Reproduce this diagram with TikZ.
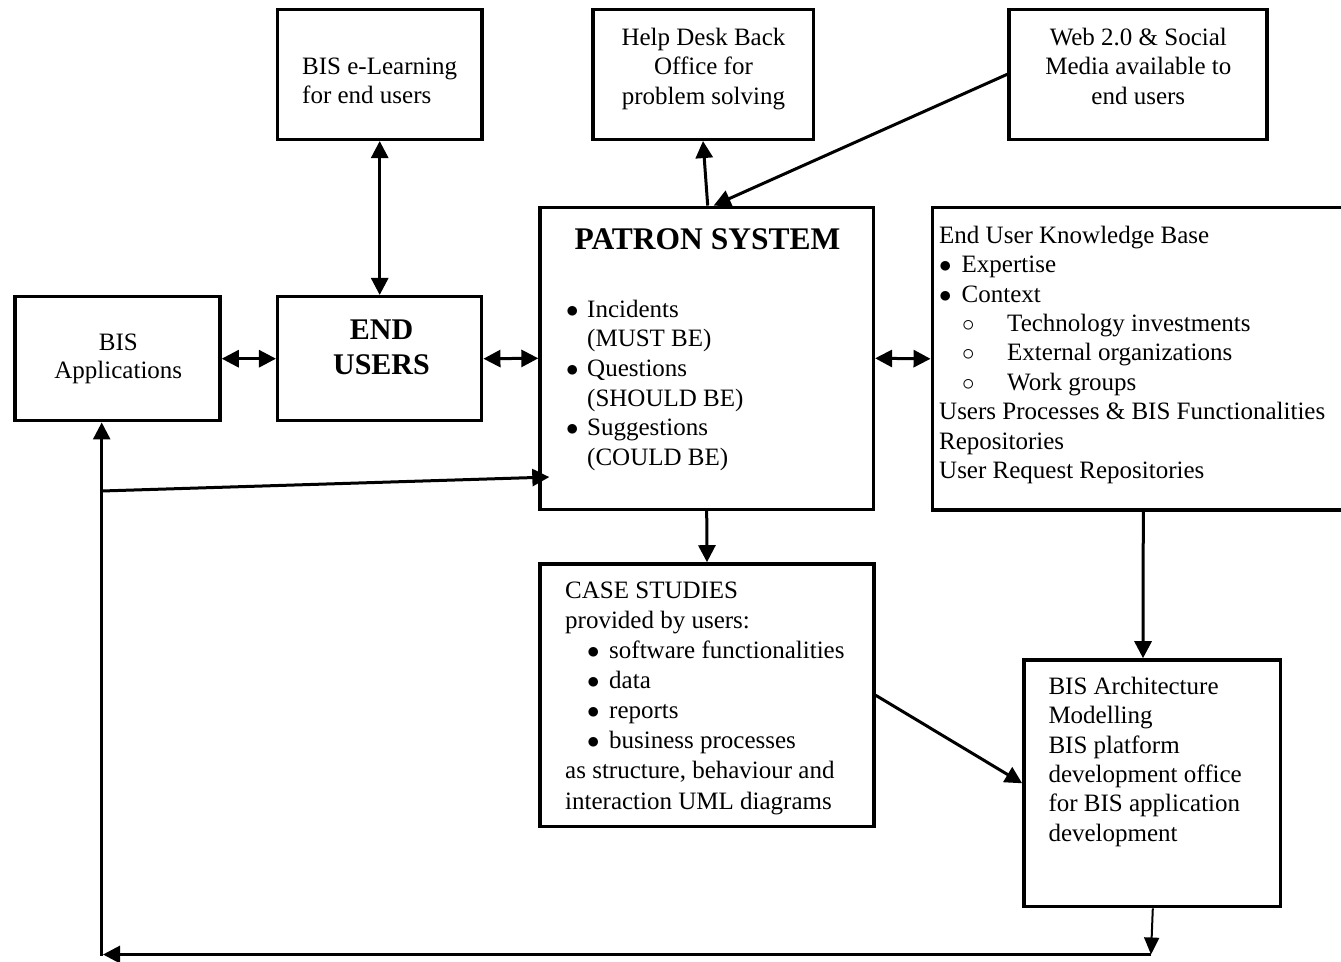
\documentclass[tikz,border=0pt]{standalone}
\usepackage{fontspec}
\setmainfont{Liberation Serif}
\usetikzlibrary{arrows.meta,calc}

% list markers: filled dot (first level) and open circle (second level)
\newcommand{\dotmark}{\(\bullet\)}
\newcommand{\subitemmark}{\(\circ\)}

\tikzset{
  box/.style={draw, line width=3.5pt, inner sep=0pt},
  conn/.style={line width=3pt, -{Triangle[length=17pt,width=17pt]}},
  dconn/.style={line width=3pt, {Triangle[length=17pt,width=17pt]}-{Triangle[length=17pt,width=17pt]}},
  thinconn/.style={line width=2pt, -{Triangle[length=17pt,width=15pt]}},
  txt/.style={inner sep=0pt, font=\fontsize{25}{29.5}\selectfont},
  ctxt/.style={txt, anchor=base},
  ltxt/.style={txt, anchor=base west},
}

\begin{document}
\begin{tikzpicture}[x=1pt, y=-1pt]
\useasboundingbox (0,0) rectangle (1341,961);

% ---- boxes ----
\node[box, minimum width=204.5pt, minimum height=130pt] (elearn)   at (379.7,74.3) {};
\node[box, minimum width=220.5pt, minimum height=130pt] (helpdesk) at (703,74.3) {};
\node[box, minimum width=258pt,   minimum height=130pt] (web)      at (1138,74.3) {};
\node[box, minimum width=205pt,   minimum height=124pt] (bisapp)   at (117.5,358.7) {};
\node[box, minimum width=204pt,   minimum height=124pt] (endusers) at (379.7,358.7) {};
\node[box, minimum width=333.3pt, minimum height=302pt] (patron)   at (706.7,358.3) {};
\node[box, minimum width=411pt,   minimum height=302.3pt] (kb)     at (1137.8,358.8) {};
\node[box, minimum width=334pt,   minimum height=262.7pt] (case)   at (707,695.3) {};
\node[box, minimum width=256.7pt, minimum height=246.7pt] (arch)   at (1152.3,783.3) {};

% ---- box texts ----
\node[ltxt] (elearntxt) at (302,74)
  {\begin{tabular}[t]{@{}l@{}}BIS e-Learning\\for end users\end{tabular}};
\node[ctxt] (helptxt) at (703.5,45)
  {\begin{tabular}[t]{@{}c@{}}Help Desk Back\\Office for\\problem solving\end{tabular}};
\node[ctxt] (webtxt) at (1138.3,45)
  {\begin{tabular}[t]{@{}c@{}}Web 2.0 \& Social\\Media available to\\end users\end{tabular}};
\node[ctxt, font=\fontsize{25}{28.5}\selectfont] (bisapptxt) at (118.3,350)
  {\begin{tabular}[t]{@{}c@{}}BIS\\Applications\end{tabular}};
\node[ctxt, font=\fontsize{30}{35}\selectfont\bfseries] (endtxt) at (381.5,339.3)
  {\begin{tabular}[t]{@{}c@{}}END\\USERS\end{tabular}};

\node[ctxt, font=\fontsize{31.5}{36}\selectfont\bfseries] (patrontitle) at (707.5,249)
  {PATRON SYSTEM};
\node[ltxt, font=\fontsize{25}{29.7}\selectfont] (patrontxt) at (566,317)
  {\begin{tabular}[t]{@{}l@{}}
   \makebox[21pt][l]{\dotmark}Incidents\\
   \hspace*{21pt}(MUST BE)\\
   \makebox[21pt][l]{\dotmark}Questions\\
   \hspace*{21pt}(SHOULD BE)\\
   \makebox[21pt][l]{\dotmark}Suggestions\\
   \hspace*{21pt}(COULD BE)
   \end{tabular}};

\node[ltxt, font=\fontsize{25}{29.4}\selectfont] (kbtxt) at (939,243.3)
  {\begin{tabular}[t]{@{}l@{}}
   End User Knowledge Base\\
   \makebox[22.5pt][l]{\dotmark}Expertise\\
   \makebox[22.5pt][l]{\dotmark}Context\\
   \hspace*{23pt}\makebox[45pt][l]{\subitemmark}Technology investments\\
   \hspace*{23pt}\makebox[45pt][l]{\subitemmark}External organizations\\
   \hspace*{23pt}\makebox[45pt][l]{\subitemmark}Work groups\\
   Users Processes \& BIS Functionalities\\
   Repositories\\
   User Request Repositories
   \end{tabular}};

\node[ltxt, font=\fontsize{25}{30.1}\selectfont] (casetxt) at (565,598.3)
  {\begin{tabular}[t]{@{}l@{}}
   CASE STUDIES\\
   provided by users:\\
   \hspace*{22pt}\makebox[22pt][l]{\dotmark}software functionalities\\
   \hspace*{22pt}\makebox[22pt][l]{\dotmark}data\\
   \hspace*{22pt}\makebox[22pt][l]{\dotmark}reports\\
   \hspace*{22pt}\makebox[22pt][l]{\dotmark}business processes\\
   as structure, behaviour and\\
   interaction UML diagrams
   \end{tabular}};

\node[ltxt, font=\fontsize{25}{29.35}\selectfont] (archtxt) at (1048.3,694.3)
  {\begin{tabular}[t]{@{}l@{}}
   BIS Architecture\\
   Modelling\\
   BIS platform\\
   development office\\
   for BIS application\\
   development
   \end{tabular}};

% ---- connectors ----
\draw[dconn] (elearn.south) -- (endusers.north);
\draw[dconn] (bisapp.east) -- (endusers.west);
\draw[dconn] (endusers.east) -- (patron.west);
\draw[dconn] (patron.east) -- (kb.west);
\draw[conn] ([xshift=1pt]patron.north) -- (helpdesk.south);
\draw[conn] (web.west) -- ([xshift=7pt]patron.north);
\draw[conn] (patron.south) -- (case.north);
\draw[conn] ([xshift=5.5pt]kb.south) -- ([xshift=-9.3pt]arch.north);
\draw[conn] (case.east) -- (arch.west);

% feedback loop along the bottom and left side
\coordinate (br) at (1151,954.5);
\coordinate (bl) at (101.7,954.5);
\coordinate (jn) at (101.7,491);
\draw[thinconn] ([xshift=0.5pt]arch.south) -- (br);
\draw[conn] (br) -- ([xshift=1.3pt]bl);
\draw[line width=2.7pt, -{Triangle[length=17pt,width=17pt]}] ([yshift=-1pt]bl) -- (bisapp.south -| bl);
\draw[conn] (jn) -- ($(patron.south west)+(11,-34)$);
\end{tikzpicture}
\end{document}
